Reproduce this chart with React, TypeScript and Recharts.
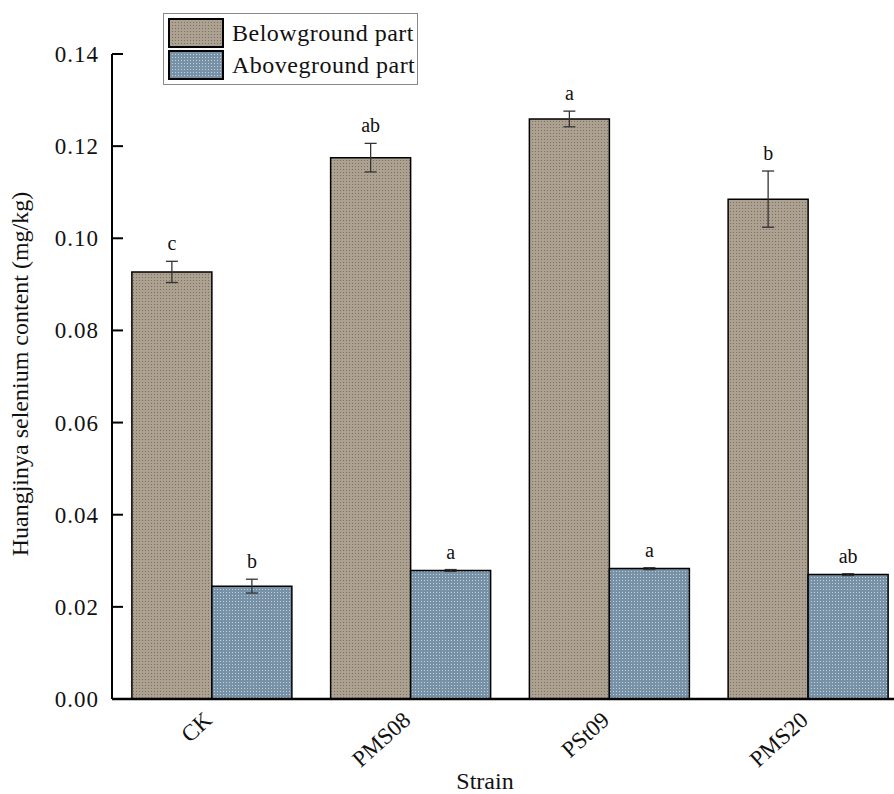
import React from 'react';
import {
  BarChart,
  Bar,
  XAxis,
  YAxis,
  ErrorBar,
  LabelList,
  Legend,
  Label,
} from 'recharts';

const strains = ['CK', 'PMS08', 'PSt09', 'PMS20'];
const belowValues = [0.0927, 0.1175, 0.1259, 0.1085];
const belowErrors = [0.0023, 0.0031, 0.0017, 0.0061];
const belowLetters = ['c', 'ab', 'a', 'b'];
const aboveValues = [0.0245, 0.0279, 0.0283, 0.0270];
const aboveErrors = [0.0015, 0.0002, 0.0002, 0.0002];
const aboveLetters = ['b', 'a', 'a', 'ab'];
const yTicks = [0, 0.02, 0.04, 0.06, 0.08, 0.1, 0.12, 0.14];

const FONT = "'Liberation Serif', 'Times New Roman', serif";

const data = strains.map((strain, i) => ({
  strain,
  below: belowValues[i],
  belowErr: belowErrors[i],
  belowLetter: belowLetters[i],
  above: aboveValues[i],
  aboveErr: aboveErrors[i],
  aboveLetter: aboveLetters[i],
}));

const YTick = (props: any) => {
  const { x, y, payload } = props;
  return (
    <g>
      <text
        x={x}
        y={y}
        dy={8}
        textAnchor="end"
        fontSize={23}
        letterSpacing={1}
        style={{ fontFamily: FONT }}
        fill="#111"
      >
        {Number(payload.value).toFixed(2)}
      </text>
      <line x1={x + 13} x2={x + 24} y1={y} y2={y} stroke="#000" strokeWidth={2} />
    </g>
  );
};

const XTick = (props: any) => {
  const { x, y, payload } = props;
  const ax = x + 2;
  const ay = y + 23;
  return (
    <text
      x={ax}
      y={ay}
      textAnchor="end"
      fontSize={23}
      style={{ fontFamily: FONT }}
      fill="#111"
      transform={`rotate(-42, ${ax}, ${ay})`}
    >
      {payload.value}
    </text>
  );
};

const letterLabel = (errKey: string) => (props: any) => {
  const { x, y, width, height, value, index } = props;
  const row: any = data[index];
  const v = errKey === 'belowErr' ? row.below : row.above;
  const errPx = (row[errKey] * height) / v;
  return (
    <text
      x={x + width / 2}
      y={y - errPx - 11}
      textAnchor="middle"
      fontSize={20}
      style={{ fontFamily: FONT }}
      fill="#111"
    >
      {value}
    </text>
  );
};

const LegendBox = () => (
  <div
    style={{
      border: '1px solid #888',
      background: '#fff',
      padding: '3px 4px 3px 4px',
      fontFamily: FONT,
      fontSize: 24,
      letterSpacing: 0.5,
      lineHeight: '32px',
      color: '#111',
      width: 245,
      boxSizing: 'content-box',
      textAlign: 'left',
    }}
  >
    {[
      { id: 'belowPat', name: 'Belowground part' },
      { id: 'abovePat', name: 'Aboveground part' },
    ].map((item) => (
      <div key={item.id} style={{ display: 'flex', alignItems: 'center', height: 32, whiteSpace: 'nowrap' }}>
        <svg width={56} height={30} style={{ marginRight: 8, flex: 'none' }}>
          <rect x={1} y={1} width={54} height={28} fill={`url(#${item.id})`} stroke="#000" strokeWidth={2} />
        </svg>
        <span>{item.name}</span>
      </div>
    ))}
  </div>
);

export default function App() {
  return (
    <div
      style={{
        position: 'absolute',
        left: 0,
        top: 0,
        width: 894,
        height: 794,
        overflow: 'hidden',
        background: '#fff',
      }}
    >
      <BarChart
        width={907}
        height={794}
        data={data}
        margin={{ top: 54, right: 0, left: 0, bottom: 0 }}
        barCategoryGap="10%"
        barGap={0}
        style={{ fontFamily: FONT }}
      >
        <defs>
          <pattern id="belowPat" width={3} height={3} patternUnits="userSpaceOnUse">
            <rect width={3} height={3} fill="#ada291" />
            <rect x={1} y={1} width={1} height={1} fill="#7b705f" />
          </pattern>
          <pattern id="abovePat" width={3} height={3} patternUnits="userSpaceOnUse">
            <rect width={3} height={3} fill="#7792a7" />
            <rect x={1} y={1} width={1} height={1} fill="#c3d1dc" />
          </pattern>
        </defs>
        <XAxis
          dataKey="strain"
          height={95}
          tickLine={false}
          tickSize={0}
          tickMargin={0}
          axisLine={{ stroke: '#000', strokeWidth: 2.5 }}
          tick={<XTick />}
          interval={0}
        >
          <Label
            content={() => (
              <text x={485} y={789} textAnchor="middle" fontSize={24} style={{ fontFamily: FONT }} fill="#111">
                Strain
              </text>
            )}
          />
        </XAxis>
        <YAxis
          width={112}
          domain={[0, 0.14]}
          ticks={yTicks}
          tickLine={false}
          tickSize={0}
          tickMargin={13}
          axisLine={{ stroke: '#000', strokeWidth: 2 }}
          tick={<YTick />}
        >
          <Label
            content={() => (
              <text
                x={28}
                y={374}
                textAnchor="middle"
                fontSize={24}
                style={{ fontFamily: FONT }}
                fill="#111"
                transform="rotate(-90, 28, 374)"
              >
                Huangjinya selenium content (mg/kg)
              </text>
            )}
          />
        </YAxis>
        <Legend
          content={<LegendBox />}
          layout="horizontal"
          verticalAlign="middle"
          align="center"
          wrapperStyle={{ position: 'absolute', left: 163, top: 13, width: 'auto', height: 'auto' }}
        />
        <Bar
          dataKey="below"
          name="Belowground part"
          fill="url(#belowPat)"
          stroke="#000"
          strokeWidth={1.5}
          isAnimationActive={false}
        >
          <ErrorBar dataKey="belowErr" width={6} stroke="#333" strokeWidth={1.3} />
          <LabelList dataKey="belowLetter" content={letterLabel('belowErr')} />
        </Bar>
        <Bar
          dataKey="above"
          name="Aboveground part"
          fill="url(#abovePat)"
          stroke="#000"
          strokeWidth={1.5}
          isAnimationActive={false}
        >
          <ErrorBar dataKey="aboveErr" width={6} stroke="#333" strokeWidth={1.3} />
          <LabelList dataKey="aboveLetter" content={letterLabel('aboveErr')} />
        </Bar>
      </BarChart>
    </div>
  );
}
